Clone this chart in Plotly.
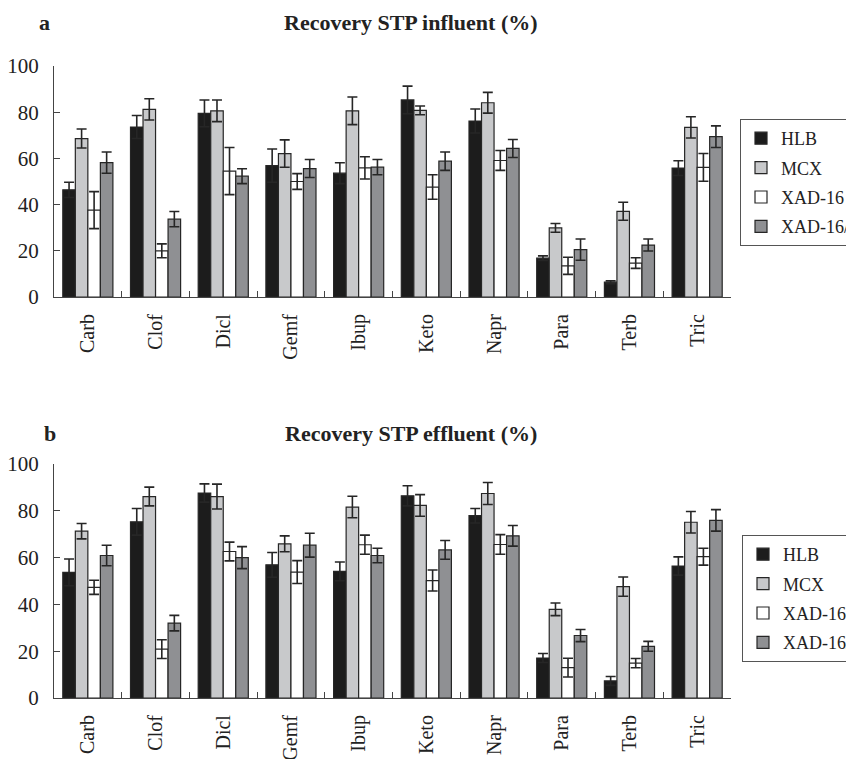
import plotly.graph_objects as go

categories = ["Carb", "Clof", "Dicl", "Gemf", "Ibup", "Keto", "Napr", "Para", "Terb", "Tric"]
series_names = ["HLB", "MCX", "XAD-16", "XAD-16/7"]

# Panel a: Recovery STP influent (%)
inf_hlb = [46.4, 73.6, 79.5, 56.9, 53.6, 85.3, 76.2, 16.8, 6.4, 55.8]
inf_hlb_err = [3.3, 5.0, 5.8, 7.2, 4.5, 6.0, 5.2, 1.0, 0.6, 3.2]
inf_mcx = [68.6, 81.2, 80.6, 62.1, 80.6, 80.8, 84.1, 29.9, 37.1, 73.4]
inf_mcx_err = [4.1, 4.6, 4.7, 5.9, 6.0, 1.9, 4.5, 1.9, 3.9, 4.6]
inf_xad16 = [37.6, 20.0, 54.5, 50.0, 55.9, 47.6, 59.1, 13.5, 14.7, 56.1]
inf_xad16_err = [8.0, 3.0, 10.2, 3.4, 4.8, 5.3, 4.3, 3.7, 2.3, 6.0]
inf_xad167 = [58.2, 33.7, 52.3, 55.6, 56.2, 58.8, 64.3, 20.5, 22.5, 69.4]
inf_xad167_err = [4.6, 3.3, 3.2, 3.9, 3.3, 4.0, 3.9, 4.6, 2.6, 4.7]

# Panel b: Recovery STP effluent (%)
eff_hlb = [53.7, 75.3, 87.6, 56.9, 54.1, 86.4, 77.9, 17.1, 7.3, 56.4]
eff_hlb_err = [5.7, 5.7, 3.9, 5.3, 4.0, 4.3, 3.1, 1.9, 1.9, 3.9]
eff_mcx = [71.3, 86.1, 86.1, 65.9, 81.6, 82.3, 87.4, 37.9, 47.6, 75.1]
eff_mcx_err = [3.3, 4.0, 5.3, 3.4, 4.6, 4.6, 4.7, 2.7, 4.1, 4.6]
eff_xad16 = [47.3, 20.9, 62.6, 53.8, 65.5, 50.2, 65.6, 13.0, 14.9, 60.4]
eff_xad16_err = [3.0, 4.0, 4.0, 4.9, 4.1, 4.5, 4.2, 4.0, 2.0, 3.6]
eff_xad167 = [60.9, 32.0, 60.0, 65.3, 60.9, 63.3, 69.3, 26.7, 22.1, 75.9]
eff_xad167_err = [4.4, 3.3, 4.7, 5.1, 3.1, 4.0, 4.4, 2.6, 2.1, 4.6]

y_ticks = [0, 20, 40, 60, 80, 100]

fill_colors = ["#1c1c1c", "#c8c9cb", "#ffffff", "#8f9093"]
edge = "#262626"
serif = "Liberation Serif"

W = 880.0
H = 759.0
OFF = 8.0  # page body margin


def fx(px):
    return (px - OFF) / W


def fy(py):
    return 1 - (py - OFF) / H


panels = [
    ([inf_hlb, inf_mcx, inf_xad16, inf_xad167],
     [inf_hlb_err, inf_mcx_err, inf_xad16_err, inf_xad167_err], "x", "y", "legend", "a"),
    ([eff_hlb, eff_mcx, eff_xad16, eff_xad167],
     [eff_hlb_err, eff_mcx_err, eff_xad16_err, eff_xad167_err], "x2", "y2", "legend2", "b"),
]

fig = go.Figure()
for vals_list, errs_list, xa, ya, lg, tag in panels:
    for name, vals, errs, col in zip(series_names, vals_list, errs_list, fill_colors):
        fig.add_trace(go.Bar(
            x=categories, y=vals, name=name, legendgroup=tag + name,
            marker=dict(color=col, line=dict(color=edge, width=1.2)),
            error_y=dict(type="data", array=errs, visible=True, color=edge, thickness=1.6, width=5),
            xaxis=xa, yaxis=ya, legend=lg,
        ))

xdom = [fx(54), fx(731)]
ydom_a = [fy(297), fy(66)]
ydom_b = [fy(698), fy(464)]

xaxis_common = dict(
    domain=xdom, showline=True, linecolor="#444444", linewidth=1.2,
    ticks="inside", tickson="boundaries", ticklen=6, tickcolor="#444444",
    tickangle=-90, tickfont=dict(family=serif, size=20, color="#222222"),
    showgrid=False, zeroline=False, automargin=False, ticklabelstandoff=8,
)
yaxis_common = dict(
    range=[0, 100], tickvals=y_ticks, showline=True, linecolor="#444444", linewidth=1.2,
    ticks="inside", ticklen=6, tickcolor="#444444",
    tickfont=dict(family=serif, size=21, color="#222222"),
    showgrid=False, zeroline=False, ticklabelstandoff=10, automargin=False,
)

legend_common = dict(
    font=dict(family=serif, size=18, color="#222222"),
    bordercolor="#555555", borderwidth=1, bgcolor="white",
    xanchor="left", yanchor="top", tracegroupgap=3, itemwidth=30,
)

title_font = dict(family=serif, size=22, color="#222222")

fig.update_layout(
    width=W, height=H,
    margin=dict(l=0, r=0, t=0, b=0, autoexpand=False),
    paper_bgcolor="white", plot_bgcolor="white",
    barmode="group", bargap=0.26, bargroupgap=0,
    xaxis=dict(**xaxis_common, anchor="y"),
    yaxis=dict(**yaxis_common, domain=ydom_a, anchor="x"),
    xaxis2=dict(**xaxis_common, anchor="y2"),
    yaxis2=dict(**yaxis_common, domain=ydom_b, anchor="x2"),
    legend=dict(**legend_common, x=fx(740), y=fy(119)),
    legend2=dict(**legend_common, x=fx(742), y=fy(535)),
    annotations=[
        dict(text="<b>a</b>", x=fx(37), y=fy(22), xref="paper", yref="paper",
             xanchor="left", yanchor="middle", showarrow=False, font=title_font),
        dict(text="<b>Recovery STP influent (%)</b>", x=fx(411), y=fy(22), xref="paper", yref="paper",
             xanchor="center", yanchor="middle", showarrow=False, font=title_font),
        dict(text="<b>b</b>", x=fx(42), y=fy(433), xref="paper", yref="paper",
             xanchor="left", yanchor="middle", showarrow=False, font=title_font),
        dict(text="<b>Recovery STP effluent (%)</b>", x=fx(411), y=fy(433), xref="paper", yref="paper",
             xanchor="center", yanchor="middle", showarrow=False, font=title_font),
    ],
)

fig.write_html("out.html")
